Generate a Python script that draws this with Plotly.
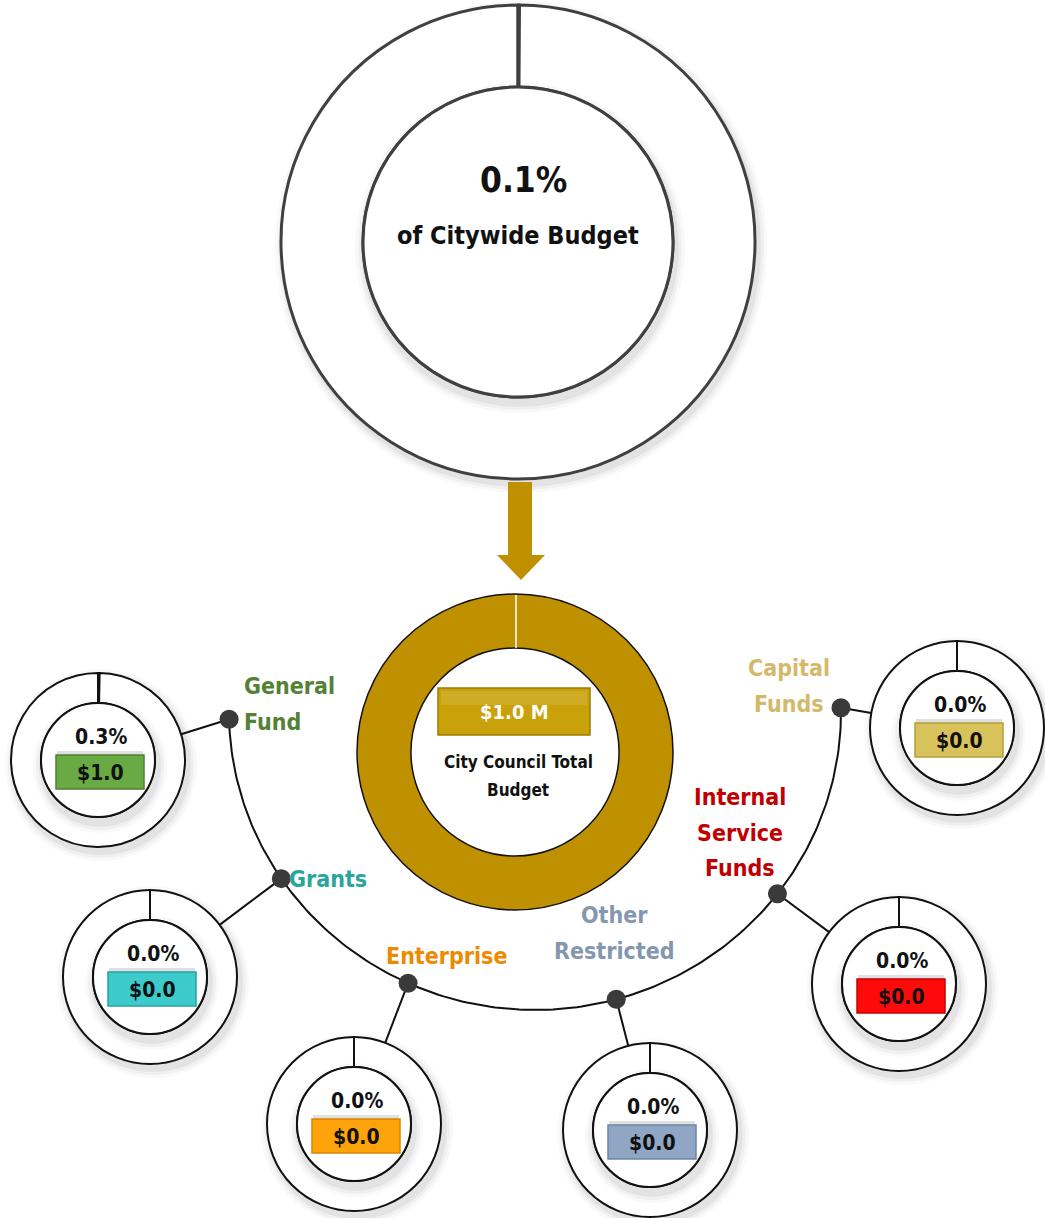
import numpy as np
import plotly.graph_objects as go

W, H = 1045, 1218

# ---------------- data ----------------
citywide_share_pct = 0.1
citywide_caption = "of Citywide Budget"
council_total_m = 1.0
council_caption = ["City Council Total", "Budget"]
funds = ["General Fund", "Grants", "Enterprise", "Other Restricted",
         "Internal Service Funds", "Capital Funds"]
fund_label_lines = [["General", "Fund"], ["Grants"], ["Enterprise"], ["Other", "Restricted"],
                    ["Internal", "Service", "Funds"], ["Capital", "Funds"]]
fund_pct = [0.3, 0.0, 0.0, 0.0, 0.0, 0.0]
fund_amount = [1.0, 0.0, 0.0, 0.0, 0.0, 0.0]

# ---------------- styles / layout ----------------
FONT = "DejaVu Sans Condensed, Liberation Sans Narrow, sans-serif"
GOLD = "#BF9000"
label_colors = ["#548235", "#2BA59B", "#EE8A00", "#8497B0", "#C00000", "#D4B96B"]
box_colors = ["#6AAA45", "#3CCACA", "#FFA30A", "#8FA6C4", "#FF0A0A", "#D8C25C"]
box_edges = ["#4E7F33", "#22A3A3", "#D98500", "#6F86A3", "#C80000", "#B39E3E"]
circle_centers = [(98, 760), (150, 977), (354, 1124), (650, 1130), (899, 984), (957, 728)]
small_r_out, small_r_in = 87, 57
box_half = (44, 17)
dot_angles = [178.6, 146.0, 114.5, 74.6, 37.6, -0.8]
arc_center, arc_rx, arc_ry = (535, 712), 306, 298
# (x, y of first line, anchor)
label_pos = [(242, 686, "left"), (287, 879, "left"), (446, 956, "center"),
             (614, 915, "center"), (740, 797, "center"), (789, 668, "center")]
label_line_gap = 35.5

top_c, top_ro, top_ri = (518, 242), 237, 155
mid_c, mid_ro, mid_ri = (515, 752), 158, 104


def domain(c, r):
    cx, cy = c
    return dict(x=[max(0, (cx - r) / W), min(1, (cx + r) / W)],
                y=[max(0, 1 - (cy + r) / H), min(1, 1 - (cy - r) / H)])


def circle(c, r, **kw):
    cx, cy = c
    return dict(type="circle", xref="x", yref="y", x0=cx - r, x1=cx + r,
                y0=cy - r, y1=cy + r, **kw)


fig = go.Figure()
shapes = []
annotations = []

# outer soft shadows (below traces)
for c, r in [(top_c, top_ro)] + [(cc, small_r_out) for cc in circle_centers]:
    for k, a in [(9, 0.025), (6, 0.035), (3, 0.05)]:
        shapes.append(circle((c[0] + 3, c[1] + 5), r + k, layer="below",
                             fillcolor=f"rgba(0,0,0,{a})", line=dict(width=0)))

# top donut: share of citywide budget
fig.add_trace(go.Pie(values=[citywide_share_pct, 100 - citywide_share_pct],
                     labels=["City Council", "Rest of City"],
                     domain=domain(top_c, top_ro), hole=top_ri / top_ro,
                     sort=False, direction="clockwise", rotation=0,
                     marker=dict(colors=["white", "white"], line=dict(color="#404040", width=3)),
                     textinfo="none", hoverinfo="skip", showlegend=False))

# middle donut: council total
fig.add_trace(go.Pie(values=[council_total_m], labels=["City Council Total"],
                     domain=domain(mid_c, mid_ro), hole=mid_ri / mid_ro,
                     sort=False, direction="clockwise", rotation=0,
                     marker=dict(colors=[GOLD], line=dict(color="#111111", width=1.5)),
                     textinfo="none", hoverinfo="skip", showlegend=False))

# fund donuts
for i, f in enumerate(funds):
    fig.add_trace(go.Pie(values=[fund_pct[i], 100 - fund_pct[i]], labels=[f, "Other"],
                         domain=domain(circle_centers[i], small_r_out),
                         hole=small_r_in / small_r_out, sort=False,
                         direction="clockwise", rotation=0,
                         marker=dict(colors=["white", "white"], line=dict(color="#111111", width=2)),
                         textinfo="none", hoverinfo="skip", showlegend=False))

# inner shadows + inner circles + ticks
for c, ri, ro, lc, lw in [(top_c, top_ri, top_ro, "#404040", 3)] + \
        [(cc, small_r_in, small_r_out, "#111111", 2) for cc in circle_centers]:
    for k, a in [(10, 0.025), (7, 0.035), (4, 0.05)]:
        shapes.append(circle((c[0] + 2, c[1] + 6), ri + k, layer="above",
                             fillcolor=f"rgba(0,0,0,{a})", line=dict(width=0)))
    shapes.append(circle(c, ri, layer="above", fillcolor="white", line=dict(color=lc, width=lw)))
    shapes.append(dict(type="line", xref="x", yref="y", x0=c[0], x1=c[0],
                       y0=c[1] - ro, y1=c[1] - ri, layer="above", line=dict(color=lc, width=lw)))

# white tick on the gold donut
shapes.append(dict(type="line", xref="x", yref="y", x0=mid_c[0] + 1, x1=mid_c[0] + 1,
                   y0=mid_c[1] - mid_ro + 1, y1=mid_c[1] - mid_ri, layer="above",
                   line=dict(color="white", width=1.5)))

# arrow
shapes.append(dict(type="path", xref="x", yref="y", layer="above",
                   path="M 508 482 L 532 482 L 532 555 L 545 555 L 521 580 L 497 555 L 508 555 Z",
                   fillcolor=GOLD, line=dict(width=0)))

# arc
t = np.radians(np.linspace(dot_angles[-1], dot_angles[0], 200))
ax = arc_center[0] + arc_rx * np.cos(t)
ay = arc_center[1] + arc_ry * np.sin(t)
fig.add_trace(go.Scatter(x=ax, y=ay, mode="lines", line=dict(color="#111111", width=2),
                         hoverinfo="skip", showlegend=False))

# connectors and dots
dt = np.radians(dot_angles)
dx = arc_center[0] + arc_rx * np.cos(dt)
dy = arc_center[1] + arc_ry * np.sin(dt)
for i in range(len(funds)):
    cx, cy = circle_centers[i]
    vx, vy = dx[i] - cx, dy[i] - cy
    n = np.hypot(vx, vy)
    ex, ey = cx + small_r_out * vx / n, cy + small_r_out * vy / n
    fig.add_trace(go.Scatter(x=[dx[i], ex], y=[dy[i], ey], mode="lines",
                             line=dict(color="#111111", width=2),
                             hoverinfo="skip", showlegend=False))
fig.add_trace(go.Scatter(x=dx, y=dy, mode="markers", text=funds,
                         marker=dict(size=19, color="#3A3A3A"),
                         hoverinfo="text", showlegend=False))

# fund boxes and texts
for i, f in enumerate(funds):
    cx, cy = circle_centers[i]
    bx, by = cx + 2, cy + 12
    # soft shadow above the box
    shapes.append(dict(type="rect", xref="x", yref="y", layer="above",
                       x0=bx - box_half[0] + 1, x1=bx + box_half[0] - 1,
                       y0=by - box_half[1] - 4, y1=by - box_half[1],
                       fillcolor="rgba(0,0,0,0.12)", line=dict(width=0)))
    shapes.append(dict(type="rect", xref="x", yref="y", layer="above",
                       x0=bx - box_half[0], x1=bx + box_half[0],
                       y0=by - box_half[1], y1=by + box_half[1],
                       fillcolor=box_colors[i], line=dict(color=box_edges[i], width=1.5)))
    annotations.append(dict(x=bx, y=by + 1, text=f"<b>${fund_amount[i]:.1f}</b>",
                            showarrow=False, font=dict(family=FONT, size=21, color="#111111")))
    annotations.append(dict(x=cx + 3, y=cy - 23, text=f"<b>{fund_pct[i]:.1f}%</b>",
                            showarrow=False, font=dict(family=FONT, size=21, color="#111111")))
    lx, ly, anc = label_pos[i]
    for j, line in enumerate(fund_label_lines[i]):
        annotations.append(dict(x=lx, y=ly + j * label_line_gap, text=f"<b>{line}</b>",
                                xanchor=anc, showarrow=False,
                                font=dict(family=FONT, size=23, color=label_colors[i])))

# council box
shapes.append(dict(type="rect", xref="x", yref="y", layer="above",
                   x0=438, x1=590, y0=688, y1=735,
                   fillcolor="#C9A108", line=dict(color="#9C7C00", width=1.5)))
shapes.append(dict(type="rect", xref="x", yref="y", layer="above",
                   x0=441, x1=587, y0=691, y1=705,
                   fillcolor="rgba(255,255,255,0.12)", line=dict(width=0)))
annotations.append(dict(x=514, y=712, text=f"<b>${council_total_m:.1f} M</b>", showarrow=False,
                        font=dict(family=FONT, size=20, color="white")))
for j, line in enumerate(council_caption):
    annotations.append(dict(x=518, y=762 + j * 28, text=f"<b>{line}</b>", showarrow=False,
                            font=dict(family=FONT, size=17, color="#111111")))

# top texts
annotations.append(dict(x=523, y=180, text=f"<b>{citywide_share_pct:.1f}%</b>", showarrow=False,
                        font=dict(family=FONT, size=35, color="#111111")))
annotations.append(dict(x=518, y=235, text=f"<b>{citywide_caption}</b>", showarrow=False,
                        font=dict(family=FONT, size=25, color="#111111")))

fig.update_layout(
    width=W, height=H, margin=dict(l=0, r=0, t=0, b=0),
    paper_bgcolor="white", plot_bgcolor="white",
    xaxis=dict(range=[0, W], visible=False, fixedrange=True),
    yaxis=dict(range=[H, 0], visible=False, fixedrange=True),
    shapes=shapes, annotations=annotations, showlegend=False,
)

fig.write_html("out.html", config={"displayModeBar": False},
               post_script="document.body.style.margin='0';")
